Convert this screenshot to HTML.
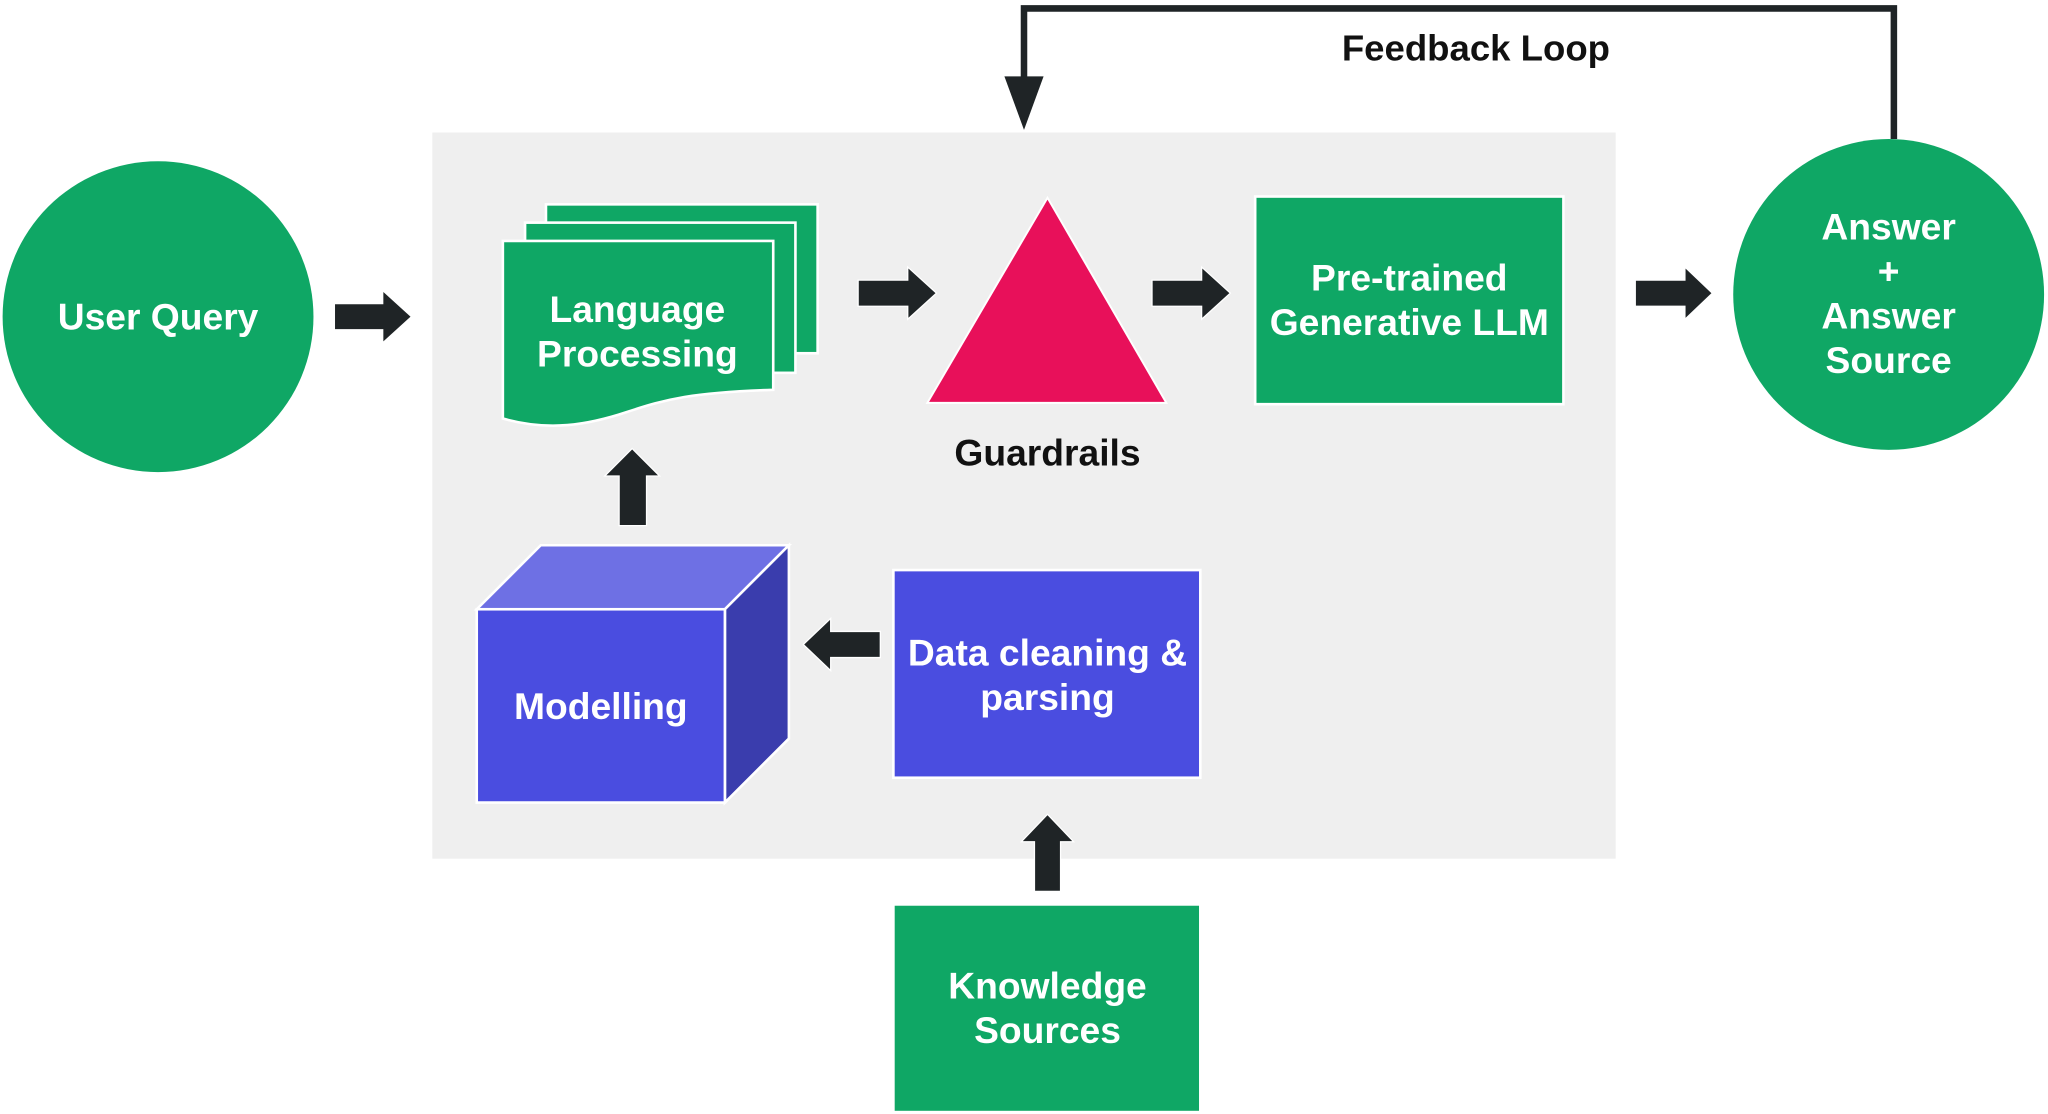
<!DOCTYPE html>
<html><head><style>
html,body{margin:0;padding:0;background:#fff;}
svg{display:block;}
text{font-family:"Liberation Sans",sans-serif;font-weight:bold;}
</style></head><body>
<svg width="2048" height="1114" viewBox="0 0 1568 852" xmlns="http://www.w3.org/2000/svg">
<rect x="331" y="101" width="906" height="556" fill="#efefef"/>
<polyline points="1450,106 1450,6 784,6 784,66" fill="none" stroke="#1f2426" stroke-width="5"/>
<polygon points="769,58 799,58 784,99" fill="#1f2426"/>
<text x="1130" y="46" font-size="28" text-anchor="middle" fill="#111">Feedback Loop</text>
<circle cx="121" cy="242" r="119" fill="#0fa765"/>
<text x="121" y="252" font-size="28.5" text-anchor="middle" fill="#fff">User Query</text>
<g fill="#1f2426" stroke="#fff" stroke-width="1">
<polygon points="256,232 293,232 293,222 315,242 293,262 293,252 256,252"/>
<polygon points="657,214 695,214 695,204 717,224 695,244 695,234 657,234"/>
<polygon points="882,214 920,214 920,204 942,224 920,244 920,234 882,234"/>
<polygon points="1252,214 1290,214 1290,204 1311,224 1290,244 1290,234 1252,234"/>
<polygon points="474,402 495,402 495,364 505,364 484,343 463,364 474,364"/>
<polygon points="674,483 636,483 636,473 615,493 636,513 636,503 674,503"/>
<polygon points="792,682 812,682 812,644 822,644 802,623 782,644 792,644"/>
</g>
<g fill="#0fa765" stroke="#fff" stroke-width="2">
<rect x="418" y="156" width="208" height="114"/>
<rect x="402" y="170" width="207" height="115"/>
<path d="M385,184 H592 V298 C530,300 510,305 480,315 C450,325 420,330 385,320 Z"/>
</g>
<text x="488" y="246" font-size="28.5" text-anchor="middle" fill="#fff">Language</text>
<text x="488" y="280" font-size="28.5" text-anchor="middle" fill="#fff">Processing</text>
<polygon points="802,151 893,308 710,308" fill="#e8105a" stroke="#fff" stroke-width="1.5"/>
<text x="802" y="356" font-size="28.5" text-anchor="middle" fill="#111">Guardrails</text>
<rect x="961" y="150" width="236" height="159" fill="#0fa765" stroke="#fff" stroke-width="2"/>
<text x="1079" y="222" font-size="28.5" text-anchor="middle" fill="#fff">Pre-trained</text>
<text x="1079" y="256" font-size="28.5" text-anchor="middle" fill="#fff">Generative LLM</text>
<circle cx="1446" cy="225" r="119" fill="#0fa765"/>
<text x="1446" y="183" font-size="28.5" text-anchor="middle" fill="#fff">Answer</text>
<text x="1446" y="217" font-size="28.5" text-anchor="middle" fill="#fff">+</text>
<text x="1446" y="251" font-size="28.5" text-anchor="middle" fill="#fff">Answer</text>
<text x="1446" y="285" font-size="28.5" text-anchor="middle" fill="#fff">Source</text>
<g stroke="#fff" stroke-width="2">
<polygon points="365,466 414,417 604,417 555,466" fill="#6e70e4"/>
<polygon points="555,466 604,417 604,565 555,614" fill="#3a3dad"/>
<rect x="365" y="466" width="190" height="148" fill="#4a4de0"/>
</g>
<text x="460" y="550" font-size="28.5" text-anchor="middle" fill="#fff">Modelling</text>
<rect x="684" y="436" width="235" height="159" fill="#4a4de0" stroke="#fff" stroke-width="2"/>
<text x="802" y="509" font-size="28.5" text-anchor="middle" fill="#fff">Data cleaning &amp;</text>
<text x="802" y="543" font-size="28.5" text-anchor="middle" fill="#fff">parsing</text>
<rect x="684" y="692" width="235" height="159" fill="#0fa765" stroke="#fff" stroke-width="2"/>
<text x="802" y="764" font-size="28.5" text-anchor="middle" fill="#fff">Knowledge</text>
<text x="802" y="798" font-size="28.5" text-anchor="middle" fill="#fff">Sources</text>
</svg>
</body></html>
